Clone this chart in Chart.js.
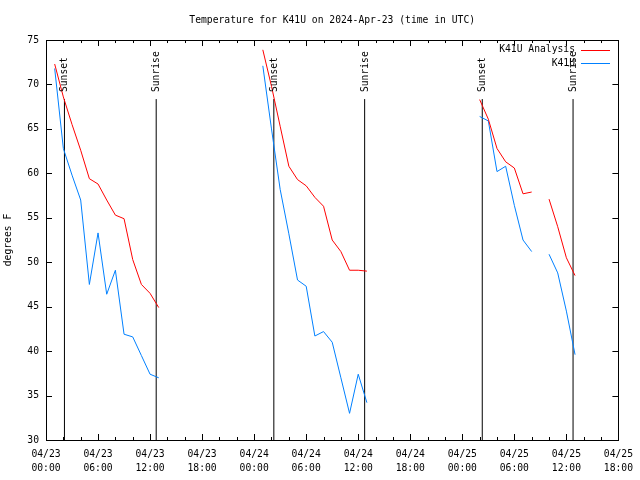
<!DOCTYPE html>
<html>
<head>
<meta charset="utf-8">
<script src="https://cdn.jsdelivr.net/npm/chart.js@4"></script>
<style>
  html, body { margin: 0; padding: 0; background: #fff; }
  canvas { display: block; }
</style>
</head>
<body>
<canvas id="chart" width="640" height="480"></canvas>
<script>
// hours since 04/23 00:00 UTC
var hours = [1, 2, 3, 4, 5, 6, 7, 8, 9, 10, 11, 12, 13,
    25, 26, 27, 28, 29, 30, 31, 32, 33, 34, 35, 36, 37,
    50, 51, 52, 53, 54, 55, 56, 57, 58, 59, 60, 61]
var analysis = [72.3, 68.6, 65.5, 62.6, 59.4, 58.8, 57.0, 55.3, 54.9, 50.3, 47.5, 46.5, 44.9,
    73.9, 69.8, 65.3, 60.8, 59.3, 58.6, 57.3, 56.3, 52.5, 51.2, 49.1, 49.1, 49.0,
    68.3, 66.1, 62.8, 61.3, 60.6, 57.7, 57.9, null, 57.1, 54.0, 50.5, 48.5]
var observed = [71.8, 62.8, 59.8, 57.0, 47.5, 53.3, 46.4, 49.1, 41.9, 41.6, 39.5, 37.4, 37.0,
    72.1, 65.0, 58.2, 53.2, 48.0, 47.3, 41.7, 42.2, 41.0, 37.0, 33.0, 37.4, 34.2,
    66.4, 65.9, 60.2, 60.8, 56.4, 52.5, 51.2, null, 50.9, 48.8, 44.5, 39.6]

var sunTimes = [2.127, 12.706, 26.27, 36.74, 50.30, 60.77]
var sunLabels = ['Sunset', 'Sunrise', 'Sunset', 'Sunrise', 'Sunset', 'Sunrise']
var sunLineTop = 68.36

var xMin = 0, xMax = 66, xStep = 6, xMinorStep = 2
var yMin = 30, yMax = 75, yStep = 5

var FONT = '"DejaVu Sans Mono", "Liberation Mono", monospace'
var FSIZE = 9.7

function points(values) {
    var pts = []
    hours.forEach(function (h, i) {
        if (values[i] !== null) pts.push({ x: h, y: values[i] })
    })
    return pts
}

function tickLabel(v) {
    var day = 23 + Math.floor(v / 24)
    var hr = v % 24
    return ['04/' + day, (hr < 10 ? '0' : '') + hr + ':00']
}

var datasets = [
    { label: 'K41U Analysis', data: points(analysis), borderColor: '#ff0000' },
    { label: 'K41U', data: points(observed), borderColor: 'rgb(0,128,255)' }
]
sunTimes.forEach(function (t, i) {
    datasets.push({
        label: sunLabels[i],
        data: [{ x: t, y: yMin }, { x: t, y: sunLineTop }],
        borderColor: '#000'
    })
})

var frame = {
    id: 'frame',
    afterDatasetsDraw: function (chart) {
        var ctx = chart.ctx, a = chart.chartArea
        var xs = chart.scales.x, ys = chart.scales.y
        ctx.save()
        ctx.strokeStyle = '#000'
        ctx.lineWidth = 1
        ctx.strokeRect(Math.round(a.left) + 0.5, Math.round(a.top) + 0.5,
            Math.round(a.right - a.left), Math.round(a.bottom - a.top))
        ctx.beginPath()
        for (var v = xMin; v <= xMax; v += xMinorStep) {
            var px = Math.round(xs.getPixelForValue(v)) + 0.5
            var len = (v % xStep === 0) ? 6 : 3
            ctx.moveTo(px, a.bottom); ctx.lineTo(px, a.bottom - len)
            ctx.moveTo(px, a.top); ctx.lineTo(px, a.top + len)
        }
        for (var y = yMin; y <= yMax; y += yStep) {
            var py = Math.round(ys.getPixelForValue(y)) + 0.5
            ctx.moveTo(a.left, py); ctx.lineTo(a.left + 6, py)
            ctx.moveTo(a.right, py); ctx.lineTo(a.right - 6, py)
        }
        ctx.stroke()

        // sunset / sunrise labels
        ctx.fillStyle = '#000'
        ctx.font = FSIZE + 'px ' + FONT
        ctx.textAlign = 'left'
        ctx.textBaseline = 'middle'
        sunTimes.forEach(function (t, i) {
            var px = xs.getPixelForValue(t) + 0.5
            var py = ys.getPixelForValue(sunLineTop) - 7
            ctx.save()
            ctx.translate(px, py)
            ctx.rotate(-Math.PI / 2)
            ctx.fillText(sunLabels[i], 0, 0)
            ctx.restore()
        })

        // legend
        ctx.textAlign = 'right'
        for (var k = 0; k < 2; k++) {
            var ds = chart.data.datasets[k]
            var ly = 49.5 + k * 13.5
            ctx.fillStyle = '#000'
            ctx.fillText(ds.label, 575, ly)
            ctx.strokeStyle = ds.borderColor
            ctx.beginPath()
            ctx.moveTo(581, Math.round(ly) + 0.5)
            ctx.lineTo(610, Math.round(ly) + 0.5)
            ctx.stroke()
        }
        ctx.restore()
    }
}

Chart.defaults.color = '#000'
Chart.defaults.font.family = FONT
Chart.defaults.font.size = FSIZE

new Chart(document.getElementById('chart').getContext('2d'), {
    type: 'line',
    data: { datasets: datasets },
    options: {
        responsive: false,
        devicePixelRatio: 1,
        animation: false,
        layout: { padding: { top: 0, right: 20, bottom: 0, left: 0 } },
        elements: {
            line: { borderWidth: 1, tension: 0, fill: false },
            point: { radius: 0, hoverRadius: 0 }
        },
        spanGaps: 1.5,
        plugins: {
            legend: { display: false },
            tooltip: { enabled: false },
            title: {
                display: true,
                fullSize: false,
                text: 'Temperature for K41U on 2024-Apr-23 (time in UTC)',
                font: { family: FONT, size: FSIZE, weight: 'normal', lineHeight: 1.2 },
                padding: { top: 15, bottom: 13.4 }
            }
        },
        scales: {
            x: {
                type: 'linear',
                min: xMin, max: xMax,
                grid: { display: false, drawTicks: false },
                border: { display: false },
                afterFit: function (s) { s.height = 40 },
                ticks: {
                    stepSize: xStep,
                    autoSkip: false,
                    maxRotation: 0,
                    padding: 7,
                    font: { lineHeight: '14px' },
                    callback: function (v) { return tickLabel(v) }
                }
            },
            y: {
                min: yMin, max: yMax,
                grid: { display: false, drawTicks: false },
                border: { display: false },
                afterFit: function (s) { s.width = 46 },
                title: { display: true, text: 'degrees F', padding: { top: 3, bottom: 0 } },
                ticks: { stepSize: yStep, padding: 7 }
            }
        }
    },
    plugins: [frame]
})
</script>
</body>
</html>
